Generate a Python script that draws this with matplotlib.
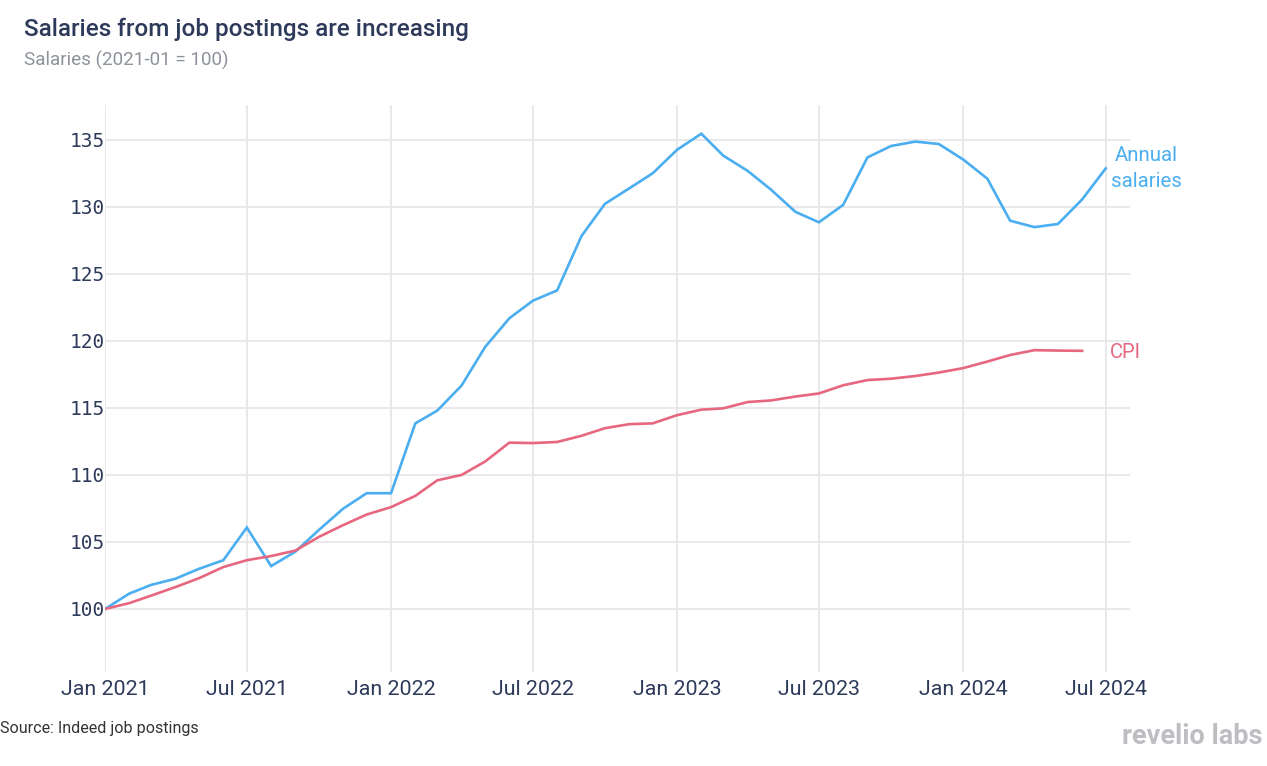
import matplotlib
matplotlib.use("Agg")
import matplotlib.pyplot as plt
import matplotlib.dates as mdates
import pandas as pd
import numpy as np

# ---- data ----
salary_dates = pd.date_range("2021-01-01", "2024-07-01", freq="MS")
annual_salaries = [
    100.0, 101.15, 101.8, 102.26, 103.0, 103.64, 106.08, 103.2, 104.28, 105.9, 107.49, 108.64,
    108.64, 113.85, 114.8, 116.67, 119.54, 121.69, 123.0, 123.77, 127.82, 130.23, 131.38, 132.51,
    134.26, 135.46, 133.82, 132.69, 131.28, 129.63, 128.85, 130.15, 133.69, 134.54, 134.87, 134.69,
    133.54, 132.1, 128.97, 128.49, 128.72, 130.56, 132.87,
]
cpi_dates = pd.date_range("2021-01-01", "2024-06-01", freq="MS")
cpi = [
    100.0, 100.44, 101.0, 101.64, 102.3, 103.13, 103.64, 103.95, 104.36, 105.38, 106.26, 107.05,
    107.6, 108.44, 109.6, 110.0, 111.0, 112.41, 112.38, 112.46, 112.92, 113.49, 113.79, 113.85,
    114.46, 114.87, 114.97, 115.44, 115.56, 115.85, 116.08, 116.69, 117.08, 117.18, 117.38, 117.64,
    117.97, 118.46, 118.95, 119.31, 119.28, 119.26,
]
y_ticks = [100, 105, 110, 115, 120, 125, 130, 135]
x_ticks = pd.date_range("2021-01-01", "2024-07-01", freq="6MS")

title = "Salaries from job postings are increasing"
subtitle = "Salaries (2021-01 = 100)"
source = "Source: Indeed job postings"

BLUE = "#4AAEF0"
PINK = "#E6677F"
NAVY = "#2D3A5A"
GRID = "#E7E7EB"

plt.rcParams["font.family"] = ["Roboto", "DejaVu Sans"]

fig = plt.figure(figsize=(12.67, 7.66), dpi=100)
ax = fig.add_axes([105 / 1267, 1 - 672 / 766, (1130 - 105) / 1267, (672 - 105) / 766])

ax.plot(salary_dates, annual_salaries, color=BLUE, lw=1.9, solid_joinstyle="miter", zorder=3)
ax.plot(cpi_dates, cpi, color=PINK, lw=1.9, solid_joinstyle="miter", zorder=3)

ax.set_xlim(pd.Timestamp("2021-01-01"), pd.Timestamp("2024-08-01"))
ax.set_ylim(95.3, 137.6)

ax.set_yticks(y_ticks)
ax.set_xticks(x_ticks)
ax.xaxis.set_major_formatter(mdates.DateFormatter("%b %Y"))

for lab in ax.get_yticklabels():
    lab.set_fontfamily("DejaVu Sans Mono")
    lab.set_fontsize(14)
    lab.set_color(NAVY)
for lab in ax.get_xticklabels():
    lab.set_fontsize(15.4)
    lab.set_color(NAVY)

ax.tick_params(axis="both", length=0)
ax.tick_params(axis="y", pad=0)
ax.tick_params(axis="x", pad=6)
for s in ax.spines.values():
    s.set_visible(False)
ax.grid(True, color=GRID, lw=1.3)
ax.set_axisbelow(True)

# end labels
ax.annotate("Annual\nsalaries", xy=(salary_dates[-1], annual_salaries[-1]), xytext=(29, 0),
            textcoords="offset points", color=BLUE, fontsize=14.7, ha="center", va="center",
            linespacing=1.45, annotation_clip=False)
ax.annotate("CPI", xy=(cpi_dates[-1], cpi[-1]), xytext=(20, -1),
            textcoords="offset points", color=PINK, fontsize=14.5, ha="left", va="center",
            annotation_clip=False)

fig.text(24 / 1267, 1 - 29 / 766, title, fontsize=17.5, fontweight="medium", color=NAVY,
         ha="left", va="center")
fig.text(24 / 1267, 1 - 60 / 766, subtitle, fontsize=13.6, color="#8D939B", ha="left", va="center")
fig.text(0, 1 - 728 / 766, source, fontsize=11.6, color="#333333", ha="left", va="center")
fig.text(1262 / 1267, 1 - 737 / 766, "revelio labs", fontsize=19.5, fontweight="bold", color="#BDBEC2",
         ha="right", va="center")

fig.savefig("out.png", dpi=100)
